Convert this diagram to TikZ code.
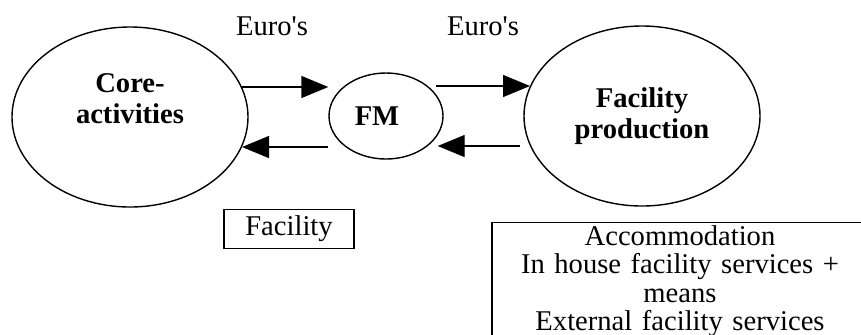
\documentclass[tikz,border=0pt]{standalone}
\usepackage{fontspec}
\setmainfont{Liberation Serif}
\usetikzlibrary{shapes.geometric,arrows.meta}

\begin{document}
\begin{tikzpicture}[x=0.5pt,y=-0.5pt,line width=0.7pt,
    font=\fontsize{14.3pt}{15.5pt}\selectfont,
    blob/.style={draw,ellipse,align=center,inner sep=0pt},
    box/.style={draw,rectangle,align=center},
    flow/.style={-{Triangle[length=13.5pt,width=11pt]}}]
    \clip (0,0) rectangle (861,334);
    % the three parties
    \node[blob,minimum width=118pt,minimum height=90pt,text depth=18pt] (core) at (130,117) {\bfseries Core-\\\bfseries activities};
    \node[blob,minimum width=57pt,minimum height=43pt] (fm) at (386,116) {\bfseries FM\hspace{9pt}};
    \node[blob,minimum width=118pt,minimum height=90pt] (prod) at (642,116) {\bfseries Facility\\\bfseries production};
    % money goes right, facility comes back
    \draw[flow] (core.15) -- (core.15 -| fm.west);
    \draw[flow] (fm.west |- core.-15) -- (core.-15);
    \draw[flow] ([xshift=-4pt]fm.east |- prod.165) -- (prod.165);
    \draw[flow] ([xshift=-5pt]prod.195) -- ([xshift=-3pt]prod.195 -| fm.east);
    \node (euroa) at (272,26) {Euro\textquotesingle s};
    \node (eurob) at (483,26) {Euro\textquotesingle s};
    \node[box,minimum width=65pt,minimum height=19pt] (facility) at (289,229) {Facility};
    \node[box,anchor=north,text width=185pt,inner sep=1.5pt,font=\fontsize{14.3pt}{14.2pt}\selectfont] (means) at (680,222) {Accommodation\\In house facility services +\\means\\External facility services};
\end{tikzpicture}
\end{document}
